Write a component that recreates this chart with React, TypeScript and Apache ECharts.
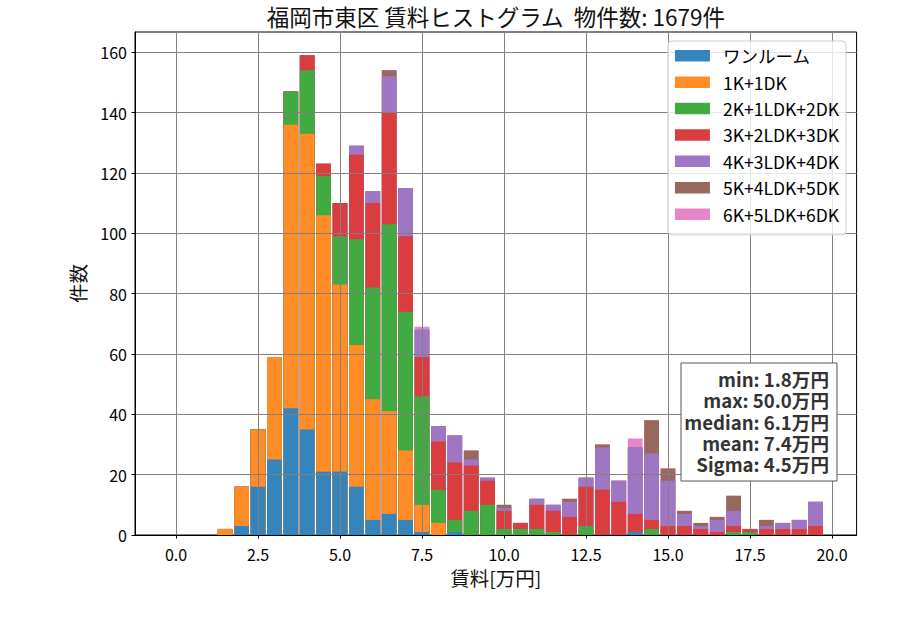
import React, { useEffect, useRef } from "react";
import * as echarts from "echarts";

const FONT = '"Noto Sans CJK JP", "Noto Sans", sans-serif';

// bin centers (width 0.5)
const binCenters = [
  0, 0.5, 1, 1.5, 2, 2.5, 3, 3.5, 4, 4.5, 5, 5.5, 6, 6.5, 7, 7.5, 8, 8.5, 9, 9.5,
  10, 10.5, 11, 11.5, 12, 12.5, 13, 13.5, 14, 14.5, 15, 15.5, 16, 16.5, 17, 17.5, 18, 18.5, 19, 19.5,
];

const seriesNames = [
  "ワンルーム",
  "1K+1DK",
  "2K+1LDK+2DK",
  "3K+2LDK+3DK",
  "4K+3LDK+4DK",
  "5K+4LDK+5DK",
  "6K+5LDK+6DK",
];

// counts per bin, one array per layout type
const oneRoom = [
  0, 0, 0, 0, 3, 16, 25, 42, 35, 21, 21, 16, 5, 7, 5, 1, 0, 1, 0, 0,
  0, 0, 0, 0, 0, 0, 0, 0, 1, 0, 0, 0, 0, 0, 0, 0, 0, 0, 0, 0,
];
const k1dk1 = [
  0, 0, 0, 2, 13, 19, 34, 94, 98, 85, 62, 47, 40, 34, 23, 9, 4, 0, 0, 0,
  0, 0, 0, 0, 0, 0, 0, 0, 0, 0, 0, 0, 0, 0, 0, 0, 0, 0, 0, 0,
];
const k2ldk1dk2 = [
  0, 0, 0, 0, 0, 0, 0, 11, 21, 13, 16, 35, 37, 62, 46, 36, 11, 4, 8, 10,
  2, 2, 2, 1, 0, 3, 0, 0, 0, 2, 0, 0, 0, 0, 1, 1, 0, 0, 0, 0,
];
const k3ldk2dk3 = [
  0, 0, 0, 0, 0, 0, 0, 0, 5, 4, 11, 28, 28, 37, 25, 13, 16, 19, 15, 8,
  6, 2, 8, 7, 6, 13, 15, 11, 6, 3, 3, 3, 2, 1, 2, 1, 2, 2, 2, 3,
];
const k4ldk3dk4 = [
  0, 0, 0, 0, 0, 0, 0, 0, 0, 0, 0, 3, 4, 12, 16, 9, 5, 9, 2, 1,
  1, 0, 2, 2, 5, 3, 14, 7, 22, 22, 15, 4, 1, 4, 5, 0, 1, 2, 3, 8,
];
const k5ldk4dk5 = [
  0, 0, 0, 0, 0, 0, 0, 0, 0, 0, 0, 0, 0, 2, 0, 0, 0, 0, 3, 0,
  1, 0, 0, 0, 1, 0, 1, 0, 0, 11, 4, 1, 1, 1, 5, 0, 2, 0, 0, 0,
];
const k6ldk5dk6 = [
  0, 0, 0, 0, 0, 0, 0, 0, 0, 0, 0, 0, 0, 0, 0, 1, 0, 0, 0, 0,
  0, 0, 0, 0, 0, 0, 0, 0, 3, 0, 0, 0, 0, 0, 0, 0, 0, 0, 0, 0,
];

const seriesValues = [oneRoom, k1dk1, k2ldk1dk2, k3ldk2dk3, k4ldk3dk4, k5ldk4dk5, k6ldk5dk6];

const seriesColors = ["#3585bc", "#ff8c26", "#41aa41", "#da3d3e", "#9f76c4", "#98675d", "#e685c8"];

const xTicks = [0, 2.5, 5, 7.5, 10, 12.5, 15, 17.5, 20];
const yTicks = [0, 20, 40, 60, 80, 100, 120, 140, 160];

const titleText = "福岡市東区 賃料ヒストグラム  物件数: 1679件";
const xLabel = "賃料[万円]";
const yLabel = "件数";
const statsLines = ["min: 1.8万円", "max: 50.0万円", "median: 6.1万円", "mean: 7.4万円", "Sigma: 4.5万円"];

const BIN_WIDTH = 0.5;
const X_MIN = -1.25;
const X_MAX = 20.75;
const Y_MAX = 166.7;

const GRID = { left: 135, top: 32, width: 721.6, height: 503 };

export default function App() {
  const ref = useRef<HTMLDivElement>(null);

  useEffect(() => {
    if (!ref.current) return;
    const chart = echarts.init(ref.current, undefined, { renderer: "svg" });
    const barWidth = (GRID.width / (X_MAX - X_MIN)) * BIN_WIDTH * 0.9;

    // cumulative tops: each layer is drawn from 0 up to the sum of itself and the layers below,
    // upper layers drawn first so that lower layers cover them (visual stacking)
    const cumulative = seriesValues.map((_, si) =>
      binCenters.map((_, i) => {
        let s = 0;
        for (let k = 0; k <= si; k++) s += seriesValues[k][i];
        return s;
      })
    );

    const series = seriesNames
      .map((name, si) => ({
        name,
        type: "bar",
        barWidth,
        barGap: "-100%",
        z: 2,
        itemStyle: { color: seriesColors[si] },
        emphasis: { disabled: true },
        data: binCenters.map((x, i) => [x, cumulative[si][i]]),
      }))
      .reverse();

    const statsLineHeight = 21.3;
    const statsMid = 421;
    const statsGraphics = statsLines.map((line, i) => ({
      type: "text",
      z: 11,
      x: 829,
      y: statsMid + (i - (statsLines.length - 1) / 2) * statsLineHeight,
      style: {
        text: line,
        fontSize: 18.6,
        fontWeight: "bold",
        fontFamily: FONT,
        fill: "#333",
        align: "right",
        verticalAlign: "middle",
      },
    }));

    chart.setOption({
      animation: false,
      grid: {
        left: GRID.left,
        top: GRID.top,
        width: GRID.width,
        height: GRID.height,
        show: true,
        borderColor: "#000",
        borderWidth: 1,
        backgroundColor: "#fff",
      },
      xAxis: {
        type: "value",
        min: X_MIN,
        max: X_MAX,
        z: 3,
        axisLine: { show: true, onZero: false, lineStyle: { color: "#000", width: 1 } },
        axisTick: { show: true, length: 3.5, lineStyle: { color: "#000", width: 1 }, customValues: xTicks },
        axisLabel: {
          customValues: xTicks,
          formatter: (v: number) => v.toFixed(1),
          fontSize: 16,
          fontFamily: FONT,
          color: "#000",
          margin: 11,
        },
        splitLine: { show: true, lineStyle: { color: "#808080", width: 1 } },
      },
      yAxis: {
        type: "value",
        min: 0,
        max: Y_MAX,
        z: 3,
        axisLine: { show: true, onZero: false, lineStyle: { color: "#000", width: 1 } },
        axisTick: { show: true, length: 3.5, lineStyle: { color: "#000", width: 1 }, customValues: yTicks },
        axisLabel: {
          customValues: yTicks,
          fontSize: 16,
          fontFamily: FONT,
          color: "#000",
          margin: 8,
        },
        splitLine: { show: true, lineStyle: { color: "#808080", width: 1 } },
      },
      legend: {
        orient: "vertical",
        right: 54,
        top: 41,
        z: 6,
        icon: "rect",
        itemWidth: 35,
        itemHeight: 11.5,
        itemGap: 8.9,
        padding: [6, 7, 12, 7],
        backgroundColor: "rgba(255,255,255,0.8)",
        borderColor: "#cccccc",
        borderWidth: 1,
        borderRadius: 4,
        selectedMode: false,
        textStyle: { fontSize: 17.5, fontFamily: FONT, color: "#000", lineHeight: 16.5, padding: [0, 0, 0, 8] },
        data: seriesNames,
      },
      graphic: [
        {
          type: "text",
          z: 10,
          x: GRID.left + GRID.width / 2,
          y: 16,
          style: {
            text: titleText,
            fontSize: 22.5,
            fontFamily: FONT,
            fill: "#111",
            align: "center",
            verticalAlign: "middle",
          },
        },
        {
          type: "text",
          z: 10,
          x: GRID.left + GRID.width / 2,
          y: 577,
          style: {
            text: xLabel,
            fontSize: 19.5,
            fontFamily: FONT,
            fill: "#111",
            align: "center",
            verticalAlign: "middle",
          },
        },
        {
          type: "text",
          z: 10,
          x: 77,
          y: GRID.top + GRID.height / 2,
          rotation: Math.PI / 2,
          style: {
            text: yLabel,
            fontSize: 19.5,
            fontFamily: FONT,
            fill: "#111",
            align: "center",
            verticalAlign: "middle",
          },
        },
        {
          type: "rect",
          z: 10,
          shape: { x: 681, y: 363, width: 156, height: 118 },
          style: { fill: "#fff", stroke: "#555", lineWidth: 1 },
        },
        ...statsGraphics,
      ],
      series,
    });

    return () => chart.dispose();
  }, []);

  return (
    <div
      ref={ref}
      style={{ position: "absolute", left: 0, top: 0, width: 900, height: 630, background: "#fff" }}
    />
  );
}
